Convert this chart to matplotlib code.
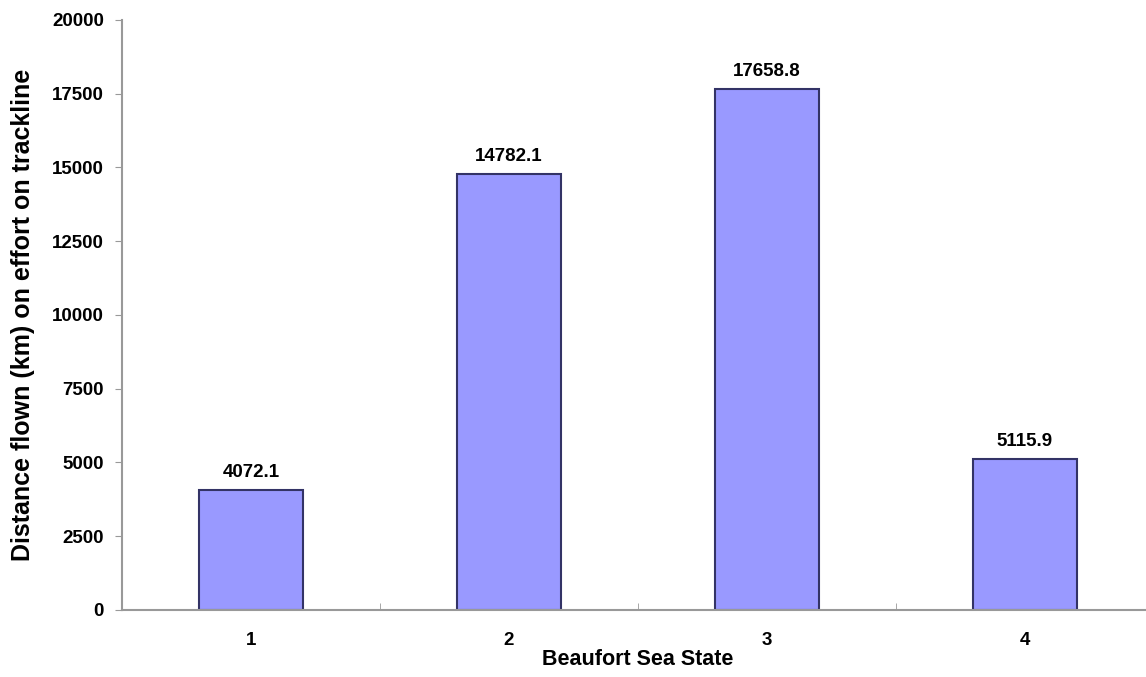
import matplotlib.pyplot as plt
import numpy as np

plt.rcParams['font.family'] = ['Liberation Sans', 'DejaVu Sans']
plt.rcParams['font.weight'] = 'bold'

states = ['1', '2', '3', '4']
distance = [4072.1, 14782.1, 17658.8, 5115.9]

fig = plt.figure(figsize=(11.46, 6.77), dpi=100)
ax = fig.add_axes([0.1065, 0.099, 0.9005, 0.8715])

x = np.arange(1, len(states) + 1)
ax.bar(x, distance, width=0.40, color='#9999ff', edgecolor='#333366', linewidth=1.5)

for xi, v in zip(x, distance):
    ax.text(xi, v + 300, f'{v:.1f}', ha='center', va='bottom', fontsize=13.5, fontweight='bold')

ax.set_xlim(0.5, 4.5)
ax.set_ylim(0, 20000)
ax.set_yticks(np.arange(0, 20001, 2500))
ax.set_xticks(x)
ax.set_xticklabels(states)
ax.set_xticks(np.arange(1.5, 4.5, 1), minor=True)
ax.tick_params(axis='x', which='major', length=0, pad=16, labelsize=13.5)
ax.tick_params(axis='x', which='minor', length=5, color='#999999', direction='in')
ax.tick_params(axis='y', length=5, color='#999999', labelsize=13.5, pad=8)

for s in ['top', 'right']:
    ax.spines[s].set_visible(False)
for s in ['left', 'bottom']:
    ax.spines[s].set_color('#999999')
    ax.spines[s].set_linewidth(1.5)

ax.set_xlabel('Beaufort Sea State', fontsize=15.5, fontweight='bold', labelpad=0)
ax.set_ylabel('Distance flown (km) on effort on trackline', fontsize=18, fontweight='bold', labelpad=12)

fig.savefig('out.png', dpi=100)
